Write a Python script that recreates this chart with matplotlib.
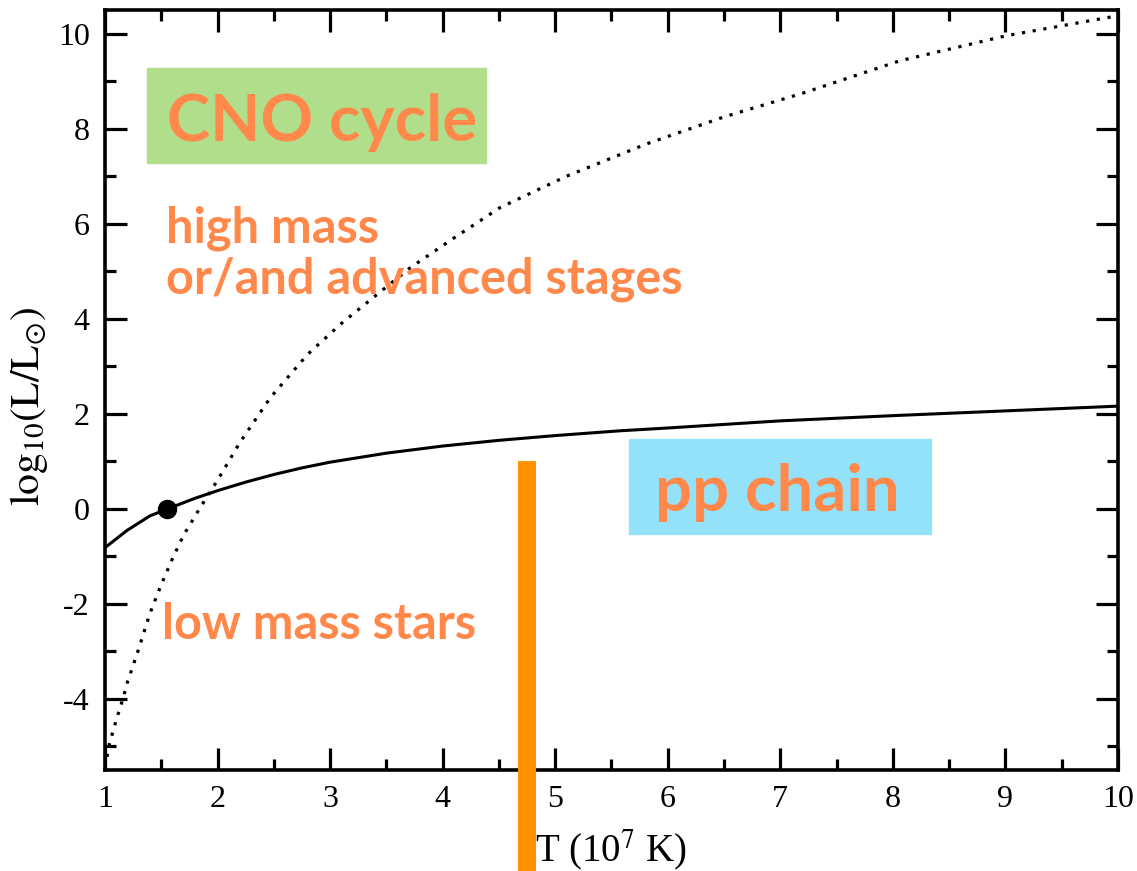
import matplotlib.pyplot as plt
from matplotlib.patches import Rectangle

plt.rcParams['font.family'] = 'Liberation Serif'
plt.rcParams['mathtext.fontset'] = 'stix'
plt.rcParams['axes.unicode_minus'] = False

# pp chain luminosity vs temperature (solid)
pp_T = [1.0, 1.2, 1.4, 1.56, 1.8, 2.0, 2.25, 2.5, 2.75, 3.0, 3.5, 4.0, 4.5, 5.0, 5.57, 6.0, 7.0, 8.0, 9.0, 10.0]
pp_L = [-0.82, -0.45, -0.15, 0.0, 0.22, 0.38, 0.56, 0.72, 0.86, 0.98, 1.17, 1.32, 1.44, 1.54, 1.64, 1.7, 1.85, 1.96, 2.06, 2.16]

# CNO cycle luminosity vs temperature (dotted)
cno_T = [1.0, 1.04, 1.1, 1.16, 1.2, 1.3, 1.4, 1.5, 1.6, 1.7, 1.84, 2.0, 2.2, 2.47, 2.8, 3.1,
         3.38, 3.71, 4.1, 4.51, 5.1, 5.81, 6.5, 7.2, 8.06, 9.01, 10.0]
cno_L = [-5.45, -4.95, -4.45, -4.0, -3.65, -2.95, -2.2, -1.6, -1.05, -0.55, 0.0, 0.6, 1.4, 2.34, 3.25, 3.9,
         4.44, 5.07, 5.7, 6.34, 7.0, 7.68, 8.25, 8.75, 9.43, 9.96, 10.38]

sun_T, sun_L = 1.55, 0.0
bar_T, bar_top = 4.75, 1.0

orange = '#ff884a'
fig = plt.figure(figsize=(11.37, 8.71), dpi=100)
ax = fig.add_axes([0.0923, 0.116, 0.891, 0.8725])

ax.plot(pp_T, pp_L, color='black', lw=2.2)
ax.plot(cno_T, cno_L, color='black', lw=2.3, linestyle=(0, (1, 2.4)))
ax.plot([sun_T], [sun_L], 'o', color='black', ms=13)

ax.plot([bar_T, bar_T], [bar_top, -9], color='#ff9200', lw=13,
        solid_capstyle='butt', clip_on=False, zorder=10)

ax.add_patch(Rectangle((1.373, 7.28), 3.011, 2.0, color='#b1de8b', zorder=0.5))
ax.add_patch(Rectangle((5.654, -0.526), 2.682, 2.0, color='#93e2f9', zorder=0.5))

lab = dict(family=['Lato', 'DejaVu Sans'], weight='bold', color=orange, va='baseline', ha='left')
ax.text(1.55, 7.75, 'CNO cycle', fontsize=47, **lab)
ax.text(5.885, -0.04, 'pp chain', fontsize=47, **lab)
ax.text(1.54, 5.6, 'high mass', fontsize=35, **lab)
ax.text(1.54, 4.53, 'or/and advanced stages', fontsize=35, **lab)
ax.text(1.506, -2.74, 'low mass stars', fontsize=35, **lab)

ax.set_xlim(1, 10)
ax.set_ylim(-5.5, 10.5)
ax.set_xticks(range(1, 11))
ax.set_xticks([x + 0.5 for x in range(1, 10)], minor=True)
ax.set_yticks(range(-4, 11, 2))
ax.set_yticks(range(-5, 11), minor=True)
ax.tick_params(which='both', direction='in', top=True, right=True, width=2.3, labelsize=23)
ax.tick_params(which='major', length=16, pad=11)
ax.tick_params(which='minor', length=8)
for s in ax.spines.values():
    s.set_linewidth(2.6)

ax.set_xlabel(r'T (10$^7$ K)', fontsize=28)
ax.xaxis.set_label_coords(0.5, -0.075)
ax.set_ylabel(r'$\mathrm{log}_{10}(\mathrm{L/L}_{\odot})$', fontsize=30)
ax.yaxis.set_label_coords(-0.054, 0.479)

fig.savefig('out.png', dpi=100)
